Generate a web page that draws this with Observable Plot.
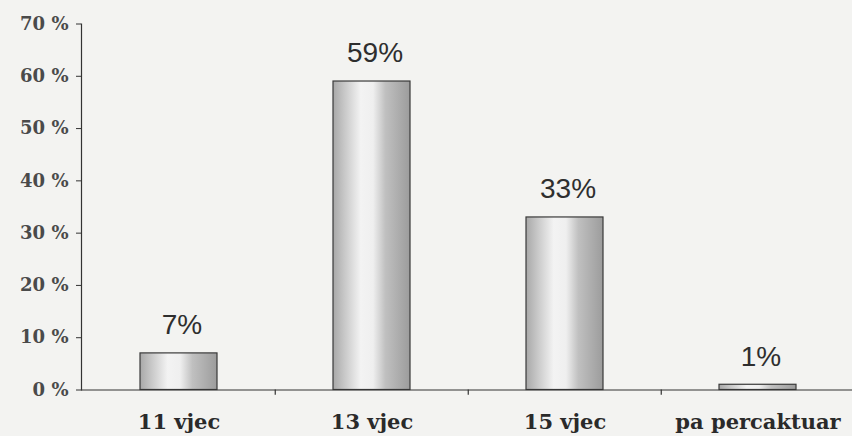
<!DOCTYPE html>
<html>
<head>
<meta charset="utf-8">
<script src="https://cdn.jsdelivr.net/npm/d3@7"></script>
<script src="https://cdn.jsdelivr.net/npm/@observablehq/plot@0.6"></script>
<style>
  html, body { margin: 0; padding: 0; background: #f3f3f1; }
  #chart svg { display: block; }
</style>
</head>
<body>
<div id="chart"></div>
<script>
const categories = ["11 vjec", "13 vjec", "15 vjec", "pa percaktuar"];
const values = [7, 59, 33, 1];
const yTicks = [0, 10, 20, 30, 40, 50, 60, 70];

const data = categories.map((c, i) => ({category: c, value: values[i]}));

const W = 852, H = 436;
const mL = 81, mR = -3, mT = 23.5, mB = 46.5;
const step = (W - mL - mR) / categories.length;

const plot = Plot.plot({
  width: W,
  height: H,
  marginLeft: mL,
  marginRight: mR,
  marginTop: mT,
  marginBottom: mB,
  style: {background: "#f3f3f1", overflow: "visible"},
  x: {domain: categories, paddingInner: 0.6, paddingOuter: 0.3},
  y: {domain: [0, 70]},
  marks: [
    Plot.barY(data, {x: "category", y: "value", fill: "url(#cyl)", stroke: "#3a3a3a", strokeWidth: 1.2}),
    Plot.ruleY([0], {stroke: "#333", strokeWidth: 1.2}),
    Plot.frame({anchor: "left", stroke: "#333", strokeWidth: 1.2}),
    Plot.ruleX(categories.slice(1), {x: d => d, y1: 0, y2: -1, dx: -step / 2, stroke: "#333", strokeWidth: 1.2}),
    Plot.axisY({ticks: yTicks, tickSize: 5, tickPadding: 8, tickFormat: d => d + " %",
      fontSize: 18, fontFamily: "DejaVu Serif", fontWeight: "bold", fill: "#4a4a4a", stroke: "#333", label: null}),
    Plot.axisX({tickSize: 0, tickPadding: 24, fontSize: 21, fontFamily: "DejaVu Serif", fontWeight: "bold", fill: "#2a2a2a", label: null}),
    Plot.text(data, {x: "category", y: "value", text: d => d.value + "%", dy: -28, dx: 3,
      fontSize: 28, fontFamily: "Liberation Sans", fill: "#2e2e2e"})
  ]
});

// cylindrical gradient definition
const svg = d3.select(plot);
const defs = svg.insert("defs", ":first-child");
const g = defs.append("linearGradient").attr("id", "cyl").attr("x1", "0%").attr("x2", "100%").attr("y1", "0%").attr("y2", "0%");
[["0%", "#a8a8a8"], ["14%", "#c6c6c6"], ["36%", "#f3f3f3"], ["52%", "#efefef"], ["68%", "#c0c0c0"], ["100%", "#9c9c9c"]]
  .forEach(([o, c]) => g.append("stop").attr("offset", o).attr("stop-color", c));

document.getElementById("chart").appendChild(plot);
</script>
</body>
</html>
